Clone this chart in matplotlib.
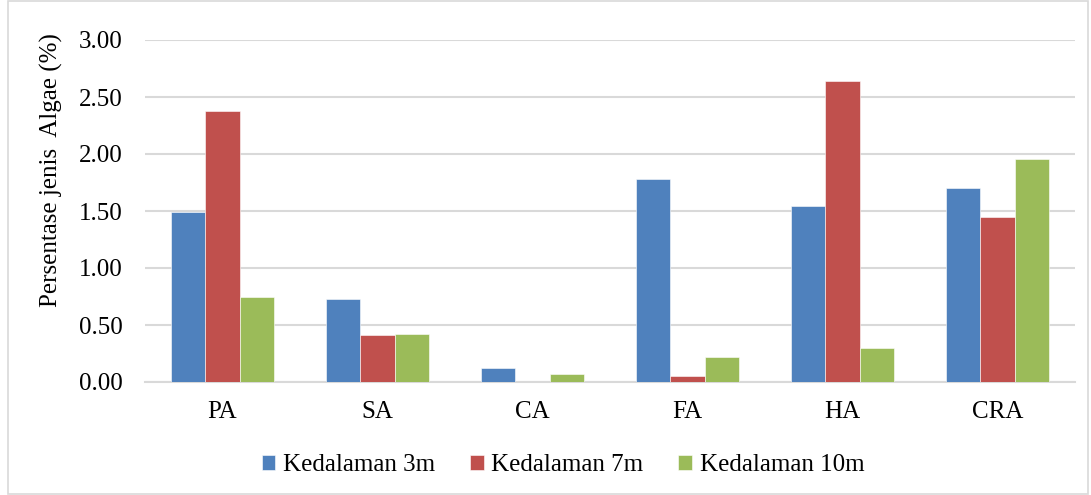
import matplotlib
matplotlib.use("Agg")
import matplotlib.pyplot as plt
import numpy as np
from matplotlib.patches import Rectangle

categories = ["PA", "SA", "CA", "FA", "HA", "CRA"]
series_names = ["Kedalaman 3m", "Kedalaman 7m", "Kedalaman 10m"]
depth_3m = [1.49, 0.725, 0.12, 1.78, 1.54, 1.70]
depth_7m = [2.38, 0.41, 0.0, 0.055, 2.64, 1.45]
depth_10m = [0.75, 0.42, 0.07, 0.22, 0.30, 1.96]
yticks = [0.0, 0.5, 1.0, 1.5, 2.0, 2.5, 3.0]
colors = ["#4F81BD", "#C0504D", "#9BBB59"]

plt.rcParams['font.family'] = ['Liberation Serif', 'DejaVu Serif']

fig = plt.figure(figsize=(10.91, 4.95), dpi=100)
ax = fig.add_axes([145/1091, 1-382/495, (1075-145)/1091, (382-40)/495])

x = np.arange(len(categories))
w = 0.222
for i, (vals, name, c) in enumerate(zip([depth_3m, depth_7m, depth_10m], series_names, colors)):
    ax.bar(x + (i-1)*w, vals, width=w, color=c, label=name, edgecolor='#ffffff', linewidth=0.4, zorder=3)

ax.set_xlim(-0.5, len(categories)-0.5)
ax.set_ylim(0, 3.0)
ax.set_yticks(yticks)
ax.set_yticklabels([f"{v:.2f}" for v in yticks], fontsize=18)
ax.set_xticks(x)
ax.set_xticklabels(categories, fontsize=18)
ax.tick_params(axis='both', length=0)
ax.tick_params(axis='y', pad=16)
ax.tick_params(axis='x', pad=14)
ax.grid(axis='y', color='#d9d9d9', linewidth=1.5, zorder=0)
for s in ['top', 'right', 'left']:
    ax.spines[s].set_visible(False)
ax.spines['bottom'].set_color('#d9d9d9')
ax.spines['bottom'].set_linewidth(1.5)
ax.set_ylabel("Persentase jenis  Algae (%)", fontsize=18)
ax.yaxis.set_label_coords(-(145-63)/930, (382-170)/342)

leg = fig.legend(loc='center', bbox_to_anchor=(563/1091, 1-465/495), ncol=3, frameon=False,
                 fontsize=18, handlelength=0.55, handleheight=0.55, handletextpad=0.3, columnspacing=1.4)

fig.patches.append(Rectangle((8/1091, 0.002), (1088-8)/1091, 0.996, transform=fig.transFigure,
                             fill=False, edgecolor='#d9d9d9', linewidth=1.2))

fig.savefig("out.png", dpi=100)
